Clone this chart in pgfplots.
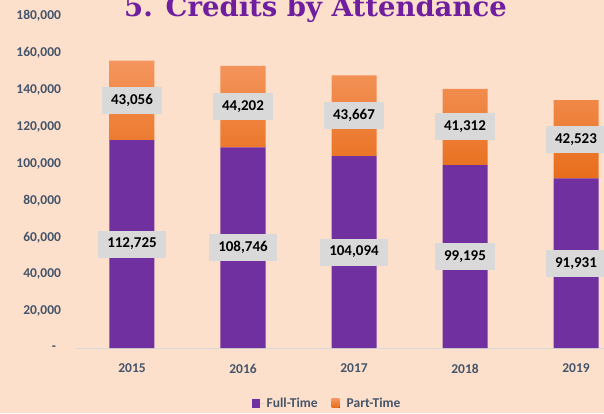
\documentclass[border=0pt]{standalone}
\usepackage{pgfplots}
\pgfplotsset{compat=1.18}
\usepackage{pgfplotstable}
\usepackage{fontspec}
\setmainfont{Carlito}
\newfontfamily\titlefont{DejaVu Serif}
\definecolor{bg}{HTML}{FDE0CC}
\definecolor{ftpurple}{HTML}{7030A0}
\definecolor{pttop}{HTML}{F4965E}
\definecolor{ptbot}{HTML}{E86D1A}
\definecolor{lblgray}{HTML}{D9D9D9}
\definecolor{tickcol}{HTML}{44546A}
\definecolor{titlecol}{HTML}{6E1E9E}
\pgfplotstableread{
x ft pt
0 112725 43056
1 108746 44202
2 104094 43667
3 99195 41312
4 91931 42523
}\data
\begin{document}
\begin{tikzpicture}
\fill[bg] (-76.5pt,-65pt) rectangle (527.5pt,348pt);
\begin{axis}[
  at={(0pt,0pt)}, anchor=south west,
  scale only axis, width=555pt, height=332pt,
  ybar stacked, bar width=45pt,
  xmin=-0.5, xmax=4.5, ymin=0, ymax=180000,
  xtick=data, xticklabels={2015,2016,2017,2018,2019},
  ytick={0,20000,40000,60000,80000,100000,120000,140000,160000,180000},
  yticklabels={{-\hspace*{5pt}},{20,000},{40,000},{60,000},{80,000},{100,000},{120,000},{140,000},{160,000},{180,000}},
  scaled y ticks=false,
  major tick length=0pt,
  axis line style={draw=none},
  tick label style={font=\fontsize{13.5}{16}\selectfont\bfseries, text=tickcol},
  yticklabel style={xshift=-12pt},
  xticklabel style={yshift=-12.5pt},
  extra y ticks={0}, extra y tick labels={},
  extra y tick style={grid=major, major grid style={draw=lblgray, line width=1pt}},
  legend style={at={(0.4514,-0.1657)}, anchor=center, draw=none, fill=none,
    legend columns=-1, font=\fontsize{13.5}{16}\selectfont\bfseries, text=tickcol},
  legend image code/.code={\fill[#1] (0pt,-4.5pt) rectangle (8pt,4.5pt); \path (0pt,0pt) -- (13pt,0pt);},
  clip=false,
]
\addplot[fill=ftpurple, draw=none] table[x=x,y=ft]{\data};
\addplot[draw=none, top color=pttop, bottom color=ptbot] table[x=x,y=pt]{\data};
\legend{Full-Time\hspace*{12pt}, Part-Time}
\end{axis}
\begin{axis}[
  at={(0pt,0pt)}, anchor=south west,
  scale only axis, width=555pt, height=332pt,
  xmin=-0.5, xmax=4.5, ymin=0, ymax=180000,
  hide axis, clip=false, scaled y ticks=false,
  point meta=explicit,
  nodes near coords={\pgfmathprintnumber[assume math mode=true, 1000 sep={,}, fixed, precision=0]{\pgfplotspointmeta}},
  every node near coord/.style={anchor=center, fill=lblgray, text=black,
    font=\fontsize{15}{18}\selectfont\bfseries, inner xsep=9pt, inner ysep=0pt,
    minimum height=27pt},
]
\addplot[draw=none, mark=none] table[x=x, y expr=\thisrow{ft}/2, meta=ft]{\data};
\addplot[draw=none, mark=none] table[x=x, y expr=\thisrow{ft}+\thisrow{pt}/2, meta=pt]{\data};
\end{axis}
\node[anchor=base, text=titlecol, font=\titlefont\bfseries\fontsize{27.5}{32}\selectfont] at (239pt,331pt) {5. Credits by Attendance};
\pgfresetboundingbox
\path[use as bounding box] (-76.5pt,-65pt) rectangle (527.5pt,348pt);
\end{tikzpicture}
\end{document}
